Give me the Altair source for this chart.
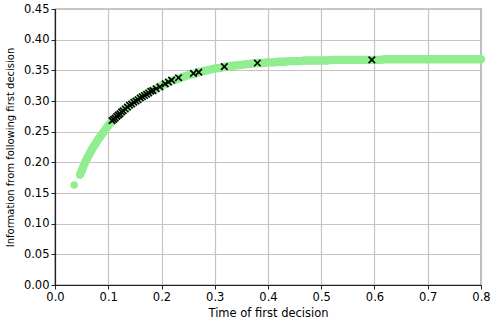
import altair as alt
import pandas as pd

# Green curve (information vs time of first decision)
curve_t = [0.036, 0.047, 0.050, 0.055, 0.060, 0.065, 0.070, 0.075, 0.080, 0.085,
           0.090, 0.095, 0.100, 0.105, 0.110, 0.115, 0.120, 0.125, 0.130, 0.135,
           0.140, 0.145, 0.150, 0.155, 0.160, 0.165, 0.170, 0.175, 0.180, 0.185,
           0.190, 0.195, 0.200, 0.210, 0.220, 0.230, 0.240, 0.250, 0.260, 0.270,
           0.280, 0.290, 0.300, 0.310, 0.320, 0.330, 0.340, 0.350, 0.360, 0.370,
           0.380, 0.390, 0.400, 0.410, 0.420, 0.430, 0.440, 0.450, 0.460, 0.470,
           0.480, 0.490, 0.500, 0.510, 0.520, 0.530, 0.540, 0.550, 0.560, 0.570,
           0.580, 0.590, 0.600, 0.610, 0.620, 0.630, 0.640, 0.650, 0.660, 0.670,
           0.680, 0.690, 0.700, 0.710, 0.720, 0.730, 0.740, 0.750, 0.760, 0.770,
           0.780, 0.790, 0.800]
curve_v = [0.163, 0.180, 0.186, 0.197, 0.206, 0.214, 0.222, 0.229, 0.236, 0.242,
           0.248, 0.254, 0.260, 0.265, 0.269, 0.274, 0.278, 0.282, 0.286, 0.289,
           0.293, 0.296, 0.299, 0.302, 0.305, 0.308, 0.310, 0.313, 0.316, 0.318,
           0.320, 0.323, 0.325, 0.329, 0.333, 0.336, 0.339, 0.342, 0.344, 0.347,
           0.349, 0.351, 0.353, 0.354, 0.356, 0.357, 0.358, 0.359, 0.360, 0.361,
           0.362, 0.362, 0.363, 0.363, 0.364, 0.364, 0.365, 0.365, 0.365, 0.366,
           0.366, 0.366, 0.366, 0.366, 0.367, 0.367, 0.367, 0.367, 0.367, 0.367,
           0.367, 0.367, 0.367, 0.367, 0.368, 0.368, 0.368, 0.368, 0.368, 0.368,
           0.368, 0.368, 0.368, 0.368, 0.368, 0.368, 0.368, 0.368, 0.368, 0.368,
           0.368, 0.368, 0.368]

# Black x markers
mark_t = [0.107, 0.110, 0.113, 0.116, 0.119, 0.122, 0.125, 0.128, 0.132, 0.136,
          0.140, 0.144, 0.148, 0.152, 0.156, 0.160, 0.164, 0.168, 0.172, 0.176,
          0.180, 0.184, 0.190, 0.197, 0.207, 0.213, 0.219, 0.232, 0.260, 0.270,
          0.318, 0.380, 0.595]
mark_v = [0.268, 0.270, 0.272, 0.275, 0.277, 0.279, 0.282, 0.284, 0.287, 0.290,
          0.293, 0.295, 0.298, 0.300, 0.302, 0.305, 0.307, 0.309, 0.311, 0.313,
          0.316, 0.317, 0.320, 0.323, 0.328, 0.331, 0.334, 0.338, 0.345, 0.347,
          0.356, 0.362, 0.367]

x_ticks = [0.0, 0.1, 0.2, 0.3, 0.4, 0.5, 0.6, 0.7, 0.8]
y_ticks = [0.0, 0.05, 0.10, 0.15, 0.20, 0.25, 0.30, 0.35, 0.40, 0.45]
x_title = "Time of first decision"
y_title = "Information from following first decision"

curve_df = pd.DataFrame({"t": curve_t, "v": curve_v, "kind": "curve"})
mark_df = pd.DataFrame({"t": mark_t, "v": mark_v, "kind": "mark"})
df = pd.concat([curve_df, mark_df], ignore_index=True)

GREEN = "#90EE90"
AX = dict(grid=True, gridColor="#c4c4c4", gridWidth=1.2,
          domainColor="#222222", domainWidth=1.2,
          tickColor="#222222", tickSize=4, tickWidth=1,
          labelFont="DejaVu Sans", labelFontSize=11.5, labelColor="#000000",
          labelPadding=2, labelOverlap=False, labelFlush=False,
          titleFont="DejaVu Sans", titleFontWeight="normal",
          titleColor="#000000", titleLimit=1000)

base = alt.Chart(df).encode(
    x=alt.X("t:Q", scale=alt.Scale(domain=[0, 0.8], nice=False, zero=False),
            axis=alt.Axis(values=x_ticks, format=".1f", title=x_title,
                          titlePadding=5, titleFontSize=11.5, **AX)),
    y=alt.Y("v:Q", scale=alt.Scale(domain=[0, 0.45], nice=False),
            axis=alt.Axis(values=y_ticks, format=".2f", title=y_title,
                          titlePadding=8, titleFontSize=10, **AX)),
)

band = base.transform_filter("datum.kind == 'curve' && datum.t > 0.04").mark_line(
    color=GREEN, strokeWidth=8.4, strokeCap="round", strokeJoin="round")

curve = base.transform_filter("datum.kind == 'curve'").mark_circle(
    color=GREEN, opacity=1, size=56)

xs = base.transform_filter("datum.kind == 'mark'").mark_point(
    shape="M-1,-1L1,1M1,-1L-1,1", filled=False, stroke="black", strokeWidth=1.6,
    size=42, opacity=1)

chart = alt.layer(band, curve, xs).properties(
    width=426, height=276,
    autosize=alt.AutoSizeParams(type="none"),
    padding={"left": 55, "top": 9, "right": 16, "bottom": 42},
).configure_view(stroke="#222222", strokeWidth=1.2)

chart.save("out.html", embed_options={"renderer": "svg", "actions": False})
